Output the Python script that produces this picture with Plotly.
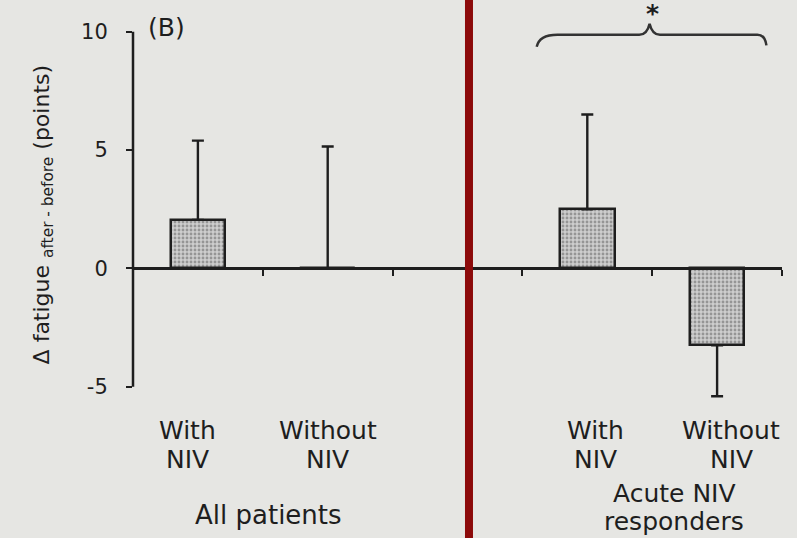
import plotly.graph_objects as go

# ---- data ----
bar_pos = [0, 1, 3, 4]                      # category slots (slot 2 is the gap between groups)
bar_labels = ["With NIV", "Without NIV", "With NIV", "Without NIV"]
means = [2.05, 0.0, 2.5, -3.25]
sd = [3.35, 5.15, 4.0, 2.15]
group_labels = ["All patients", "Acute NIV responders"]
ytick_vals = [-5, 0, 5, 10]
ytick_text = ["-5", "0", "5", "10"]

FONT = "DejaVu Sans"
INK = "#1e1e1e"
BG = "#e6e6e3"

err_up = [s if m >= 0 else 0 for m, s in zip(means, sd)]
err_down = [s if m < 0 else 0 for m, s in zip(means, sd)]

ymin, ymax = -5.56, 11.34
PLOT_H = 400  # px height of plotting area


def py(px):
    """pixel row (from top) -> paper y"""
    return (PLOT_H - px) / PLOT_H


fig = go.Figure()
fig.add_trace(go.Bar(
    x=bar_pos, y=means, width=0.42,
    marker=dict(color="#c0c0c0", line=dict(color=INK, width=2.5),
                pattern=dict(shape=".", bgcolor="#cdcdcd", fgcolor="#5e5e5e",
                             size=4, solidity=0.4)),
    error_y=dict(type="data", array=err_up, arrayminus=err_down, symmetric=False,
                 color=INK, thickness=2.4, width=6),
    showlegend=False,
))

zero_pos = (0 - ymin) / (ymax - ymin)

fig.update_layout(
    width=797, height=538,
    margin=dict(l=133, r=15, t=0, b=538 - PLOT_H),
    paper_bgcolor=BG, plot_bgcolor=BG,
    font=dict(family=FONT, color=INK),
    xaxis=dict(range=[-0.5, 4.5], anchor="free", position=zero_pos,
               showline=True, linecolor=INK, linewidth=2.5,
               tickvals=[0.5, 1.5, 2.5, 3.5, 4.5], ticks="outside", ticklen=6,
               tickwidth=2, tickcolor=INK, showticklabels=False,
               showgrid=False, zeroline=False),
    yaxis=dict(range=[ymin, ymax], tickvals=ytick_vals, ticktext=ytick_text,
               ticks="outside", ticklen=6, tickwidth=2, tickcolor=INK,
               ticklabelstandoff=14, tickfont=dict(size=21, family=FONT, color=INK),
               showline=False, showgrid=False, zeroline=False),
    bargap=0,
)

# y axis line spanning -5..10 only
fig.add_shape(type="line", xref="paper", yref="y", x0=0, x1=0,
              y0=ytick_vals[0], y1=ytick_vals[-1], line=dict(color=INK, width=2.5))

# significance brace over the responders group
brace = ("M 2.61,9.36 Q 2.63,9.87 2.77,9.87 L 3.40,9.87 Q 3.46,9.87 3.48,10.34 "
         "Q 3.50,9.87 3.56,9.87 L 4.31,9.87 Q 4.37,9.87 4.38,9.42")
fig.add_shape(type="path", xref="x", yref="y", path=brace,
              line=dict(color="#333", width=2.5))
fig.add_annotation(x=3.5, y=10.75, xref="x", yref="y", text="<b>*</b>", showarrow=False,
                   yanchor="middle", font=dict(size=25, family=FONT, color=INK))

# red divider
fig.add_shape(type="line", xref="paper", yref="paper",
              x0=0.5177, x1=0.5177, y0=-0.36, y1=1.01,
              line=dict(color="#8c0a0a", width=8))

# panel tag
fig.add_annotation(x=0.02, y=py(27), xref="paper", yref="paper", text="(B)",
                   showarrow=False, xanchor="left", yanchor="middle",
                   font=dict(size=25, family=FONT, color=INK))

# y-axis title
fig.add_annotation(x=0, y=2.26, xref="paper", yref="y", xshift=-106, textangle=-90,
                   text="Δ fatigue <sub>after - before</sub> (points)", showarrow=False,
                   font=dict(size=22, family=FONT, color=INK))

# category labels (two lines each)
label_shift = [-10, 0, 8, 14]
for xp, lab, sh in zip(bar_pos, bar_labels, label_shift):
    w1, w2 = lab.split(" ")
    fig.add_annotation(x=xp, y=py(431), xref="x", yref="paper", xshift=sh, yanchor="middle",
                       text=w1, showarrow=False, font=dict(size=25, family=FONT, color=INK))
    fig.add_annotation(x=xp, y=py(459), xref="x", yref="paper", xshift=sh, yanchor="middle",
                       text=w2, showarrow=False, font=dict(size=25, family=FONT, color=INK))

# group labels
fig.add_annotation(x=0.5, y=py(515), xref="x", yref="paper", xshift=6, yanchor="middle",
                   text=group_labels[0], showarrow=False,
                   font=dict(size=26, family=FONT, color=INK))
g2a, g2b = group_labels[1].rsplit(" ", 1)
fig.add_annotation(x=3.5, y=py(493), xref="x", yref="paper", xshift=22, yanchor="middle",
                   text=g2a, showarrow=False, font=dict(size=25, family=FONT, color=INK))
fig.add_annotation(x=3.5, y=py(521), xref="x", yref="paper", xshift=22, yanchor="middle",
                   text=g2b, showarrow=False, font=dict(size=25, family=FONT, color=INK))

fig.write_html("out.html",
               config={"displayModeBar": False},
               post_script="document.body.style.margin='0';"
                           "document.body.style.overflow='hidden';"
                           "document.body.style.background='#e6e6e3';")
